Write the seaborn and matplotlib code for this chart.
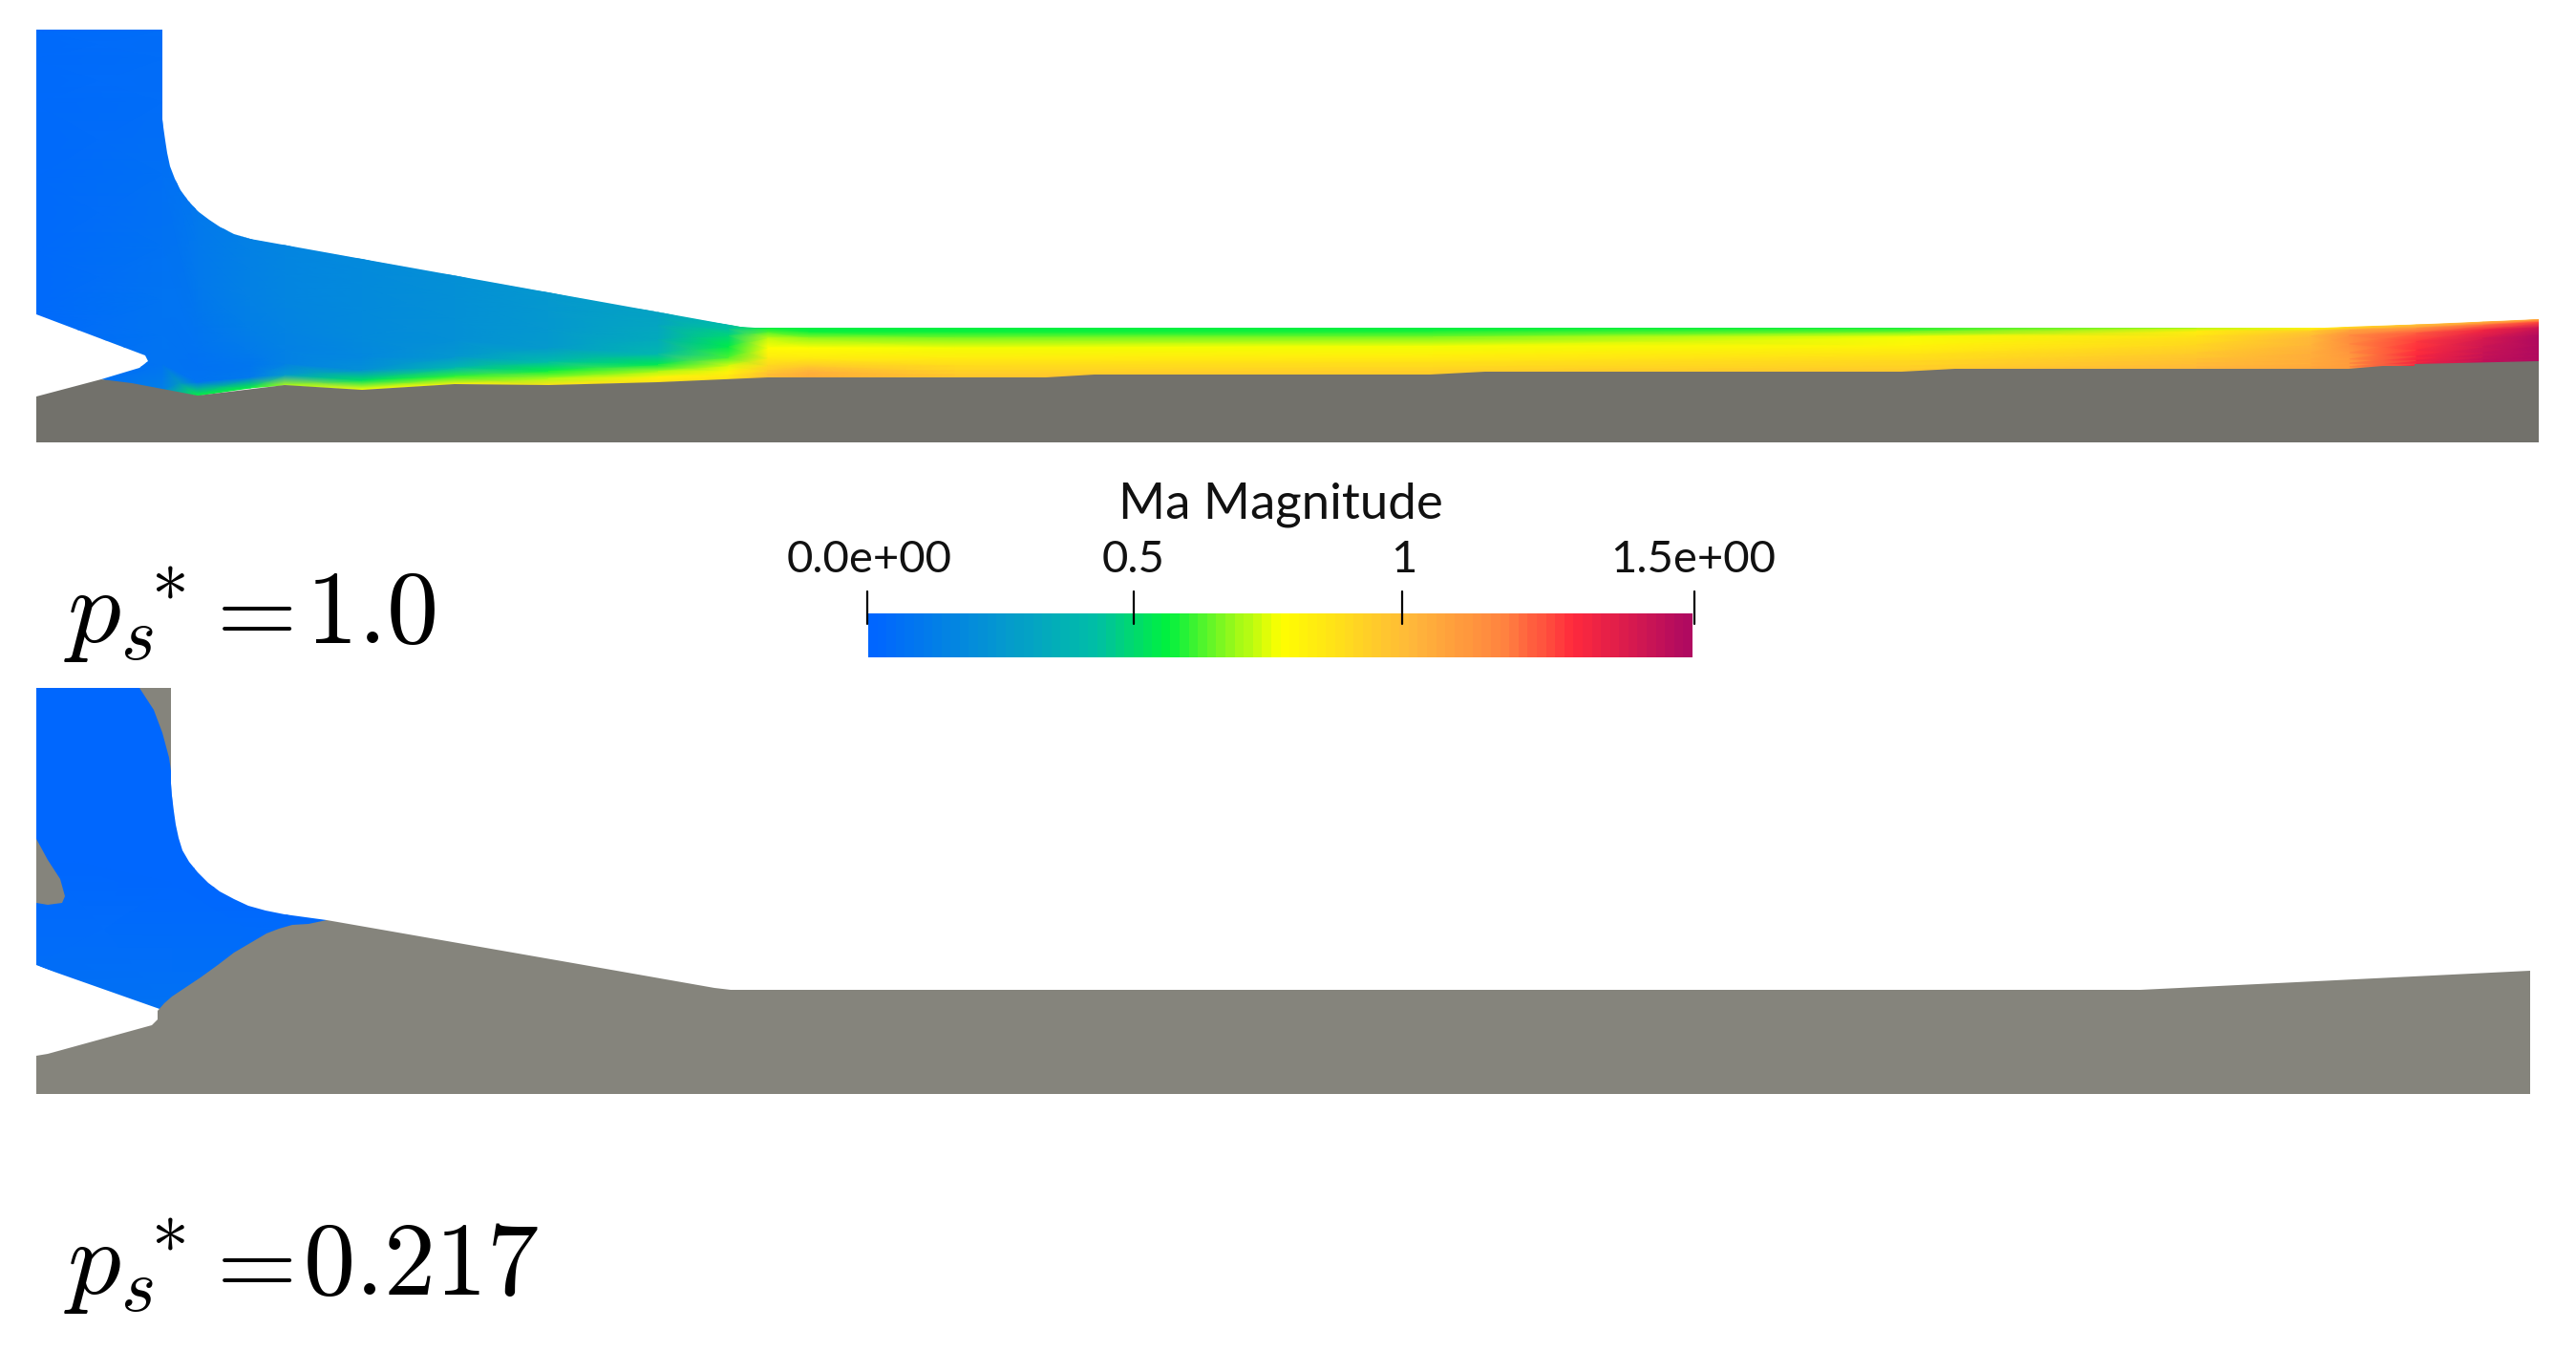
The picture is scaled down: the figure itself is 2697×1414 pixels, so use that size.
import numpy as np
import seaborn as sns
import matplotlib.pyplot as plt
from matplotlib.colors import LinearSegmentedColormap
from matplotlib.patches import Polygon

# all geometry below in pixels
W, H = 2697, 1414

# colour scale of the legend (position on the bar, colour)
SCALE_POS = [0.0, 0.17, 0.27, 0.36, 0.50, 0.66, 0.78, 0.86, 1.0]
SCALE_COL = ["#0066ff", "#059ccb", "#00bda8", "#00f040", "#ffff00", "#ffb83a",
             "#ff8040", "#ff2a3c", "#b00a60"]
MA_MIN, MA_MAX = 0.0, 1.5

# upper case, p_s* = 1.0
STATION_X = [38, 170, 207, 262, 298, 379, 476, 574, 689, 763, 804, 847, 1000,
             1500, 2000, 2300, 2420, 2460, 2530, 2600, 2658]
STATION_TOP = [31, 31, 215, 250, 256, 271, 288, 306, 326, 340, 343, 343, 343,
               343, 343, 343, 343, 342, 340, 337, 334]
STATION_BOTTOM = [420, 408, 414, 406, 403, 408, 402, 403, 400, 397, 396, 396, 396,
                  392, 390, 387, 387, 387, 384, 380, 379]
ETA = [0, 0.08, 0.2, 0.4, 0.6, 0.75, 0.85, 0.93, 1.0]
# one line per station, wall-normal from upper wall to lower wall
MA_UPPER = [
    [.02, .02, .02, .02, .02, .02, .02, .02, .02],
    [.04, .04, .04, .05, .06, .07, .07, .07, .12],
    [.09, .09, .09, .09, .08, .07, .06, .07, .55],
    [.13, .13, .13, .13, .12, .10, .08, .09, .55],
    [.15, .15, .15, .15, .14, .13, .13, .25, .68],
    [.17, .17, .17, .17, .17, .16, .20, .50, .75],
    [.20, .20, .20, .20, .20, .23, .38, .58, .80],
    [.24, .24, .24, .24, .25, .40, .55, .68, .85],
    [.29, .29, .30, .32, .38, .52, .68, .78, .85],
    [.40, .42, .47, .53, .60, .72, .78, .82, .86],
    [.54, .60, .70, .76, .82, .88, .92, .97, .97],
    [.54, .55, .66, .75, .82, .92, 1.0, 1.03, 1.03],
    [.54, .55, .64, .74, .81, .87, .90, .93, .95],
    [.54, .56, .64, .74, .80, .85, .88, .91, .92],
    [.56, .62, .74, .78, .84, .88, .90, .92, .94],
    [.68, .80, .84, .88, .92, .95, .97, .99, 1.0],
    [.75, .92, .98, 1.0, 1.02, 1.03, 1.03, 1.04, 1.04],
    [.85, 1.05, 1.12, 1.12, 1.10, 1.08, 1.08, 1.08, 1.08],
    [.95, 1.10, 1.22, 1.27, 1.28, 1.30, 1.31, 1.32, 1.32],
    [1.0, 1.20, 1.32, 1.40, 1.42, 1.43, 1.44, 1.45, 1.45],
    [1.0, 1.25, 1.42, 1.50, 1.50, 1.50, 1.50, 1.50, 1.50],
]
FLUID_UPPER = [(38, 31), (170, 31), (170, 117), (170.5, 125), (171, 133), (173, 147),
               (175, 160), (178, 174), (183, 187), (189, 199), (197, 210), (207, 221),
               (219, 230), (231, 238), (245, 245), (262, 250), (775, 342), (790, 343),
               (2434, 343), (2658, 334), (2658, 385), (1000, 405), (600, 420), (207, 420),
               (138, 405), (106, 397), (146, 385), (155, 378), (152, 372), (38, 329)]
WALL_UPPER = [(38, 463), (38, 415), (106, 397), (138, 401), (207, 414), (298, 403),
              (379, 408), (476, 402), (574, 403), (689, 400), (804, 395), (1095, 395),
              (1146, 392), (1497, 392), (1555, 389), (1991, 389), (2047, 386),
              (2459, 386), (2495, 383), (2528, 383), (2528, 381), (2658, 378), (2658, 463)]

# lower case, p_s* = 0.217
STATION_X_LOW = [38, 180, 342]
STATION_TOP_LOW = [720, 720, 900]
STATION_BOTTOM_LOW = [1010, 1060, 968]
ETA_LOW = [0, 0.6, 1.0]
MA_LOWER = [
    [.01, .01, .04],
    [.01, .01, .06],
    [.01, .01, .02],
]
FLUID_LOWER = [(38, 720), (179, 720), (179, 807), (179.5, 820), (180, 833), (182, 849),
               (184, 863), (187, 877), (191, 890), (198, 902), (207, 913), (218, 924),
               (230, 933), (245, 941), (260, 948), (278, 953), (298, 957), (320, 960),
               (342, 963), (342, 970), (165, 1062), (38, 1010)]
WALL_LOWER = [(38, 1145), (38, 1105), (50, 1103), (159, 1073), (165, 1067), (165, 1058),
              (172, 1050), (180, 1043), (195, 1033), (210, 1023), (228, 1010), (245, 997),
              (262, 987), (279, 977), (292, 972), (306, 968), (323, 967), (342, 963),
              (600, 1008), (748, 1034), (765, 1036), (2241, 1036), (2649, 1016), (2649, 1145)]
WEDGE_LOWER = [(146, 720), (179, 720), (179, 807), (177, 793), (170, 767), (161, 743)]
BLOB_LOWER = [(38, 878), (50, 900), (63, 920), (68, 938), (65, 945), (50, 947), (38, 945)]

# legend
BAR_BOX = (909, 642, 1772, 688)
TICK_X = [908, 1187, 1468, 1774]
TICK_LABELS = ["0.0e+00", "0.5", "1", "1.5e+00"]
TICK_LABEL_X = [910, 1187, 1470, 1773]


def draw_field(ax, xs, tops, bottoms, etas, table, outline, cmap):
    xs, tops, bottoms = np.array(xs), np.array(tops), np.array(bottoms)
    etas = np.array(etas)
    gx = np.repeat(xs[:, None], len(etas), axis=1)
    gy = tops[:, None] + (bottoms - tops)[:, None] * etas[None, :]
    mesh = ax.pcolormesh(gx, gy, np.array(table), shading="gouraud", cmap=cmap,
                         vmin=MA_MIN, vmax=MA_MAX, zorder=1)
    mesh.set_clip_path(Polygon(outline, transform=ax.transData))


sns.set_theme(style="white")
plt.rcParams["mathtext.fontset"] = "cm"

cmap = LinearSegmentedColormap.from_list("ma", list(zip(SCALE_POS, SCALE_COL)), N=256)

fig = plt.figure(figsize=(W / 100, H / 100), dpi=100, facecolor="white")
ax = fig.add_axes([0, 0, 1, 1])
ax.set_xlim(0, W)
ax.set_ylim(H, 0)
ax.axis("off")

draw_field(ax, STATION_X, STATION_TOP, STATION_BOTTOM, ETA, MA_UPPER, FLUID_UPPER, cmap)
ax.add_patch(Polygon(WALL_UPPER, facecolor="#72716b", edgecolor="none", zorder=2))

draw_field(ax, STATION_X_LOW, STATION_TOP_LOW, STATION_BOTTOM_LOW, ETA_LOW, MA_LOWER,
           FLUID_LOWER, cmap)
for shape in (WALL_LOWER, WEDGE_LOWER, BLOB_LOWER):
    ax.add_patch(Polygon(shape, facecolor="#85847c", edgecolor="none", zorder=2))

# colour bar is a one row heatmap
x0, y0, x1, y1 = BAR_BOX
bar_ax = fig.add_axes([x0 / W, 1 - y1 / H, (x1 - x0) / W, (y1 - y0) / H])
sns.heatmap(np.linspace(MA_MIN, MA_MAX, 90)[None, :], ax=bar_ax, cmap=cmap, vmin=MA_MIN,
            vmax=MA_MAX, cbar=False, xticklabels=False, yticklabels=False)

# ticks run over the bar, so they go on the figure
for t in TICK_X:
    fig.add_artist(plt.Line2D([t / W, t / W], [1 - 619 / H, 1 - 653 / H], color="black", lw=1.6))

for x, label in zip(TICK_LABEL_X, TICK_LABELS):
    ax.text(x, 599, label, family="Lato", fontsize=34, color="#111111",
            ha="center", va="baseline")
ax.text(1341, 542, "Ma Magnitude", family="Lato", fontsize=38, color="#111111",
        ha="center", va="baseline")

for base, value, value_x in [(673, "1.0", 320), (1355, "0.217", 317)]:
    ax.text(67, base, r"$p_s\!{}^{*}$", fontsize=80, color="black", va="baseline")
    ax.text(207, base, r"${=}$", fontsize=78, color="black", va="baseline")
    ax.text(value_x, base, "$" + value + "$", fontsize=78, color="black", va="baseline")

fig.savefig("out.png", dpi=100)
